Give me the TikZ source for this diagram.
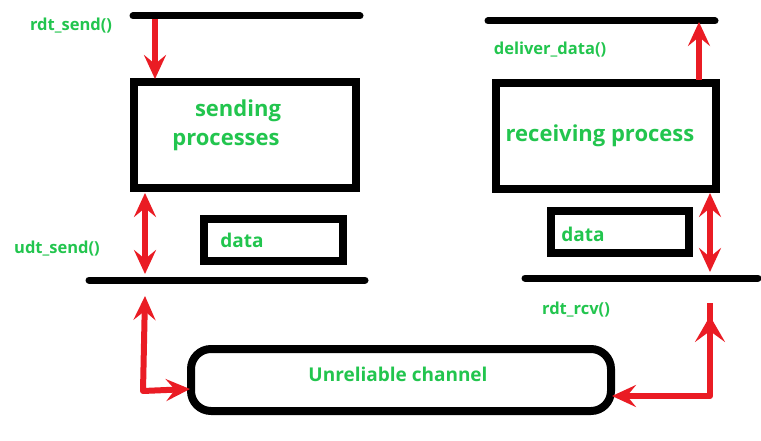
\documentclass[tikz,border=0pt]{standalone}
\usepackage{fontspec}
\setmainfont{Open Sans}
\usetikzlibrary{arrows.meta}
\definecolor{lblgreen}{RGB}{34,197,78}
\definecolor{arrred}{RGB}{234,28,36}
\tikzset{
  bar/.style={line width=7pt, line cap=round},
  box/.style={draw, line width=8pt, inner sep=0pt},
  lbl/.style={text=lblgreen, font=\bfseries, inner sep=0pt},
  small/.style={lbl, font=\bfseries\fontsize{16.5}{20}\selectfont},
  big/.style={lbl, font=\bfseries\fontsize{22}{26}\selectfont},
  mid/.style={lbl, font=\bfseries\fontsize{19}{23}\selectfont},
  flow/.style={arrred, line width=6pt, line join=round,
    arrows={-Stealth[length=24pt, width=22pt, inset=9pt]}},
  flowboth/.style={flow, arrows={Stealth[length=24pt, width=22pt, inset=9pt]-Stealth[length=24pt, width=22pt, inset=9pt]}},
}
\begin{document}
\begin{tikzpicture}[x=1pt, y=-1pt]
  \useasboundingbox[fill=white] (0,0) rectangle (761,441);

  % horizontal layer boundaries
  \coordinate (lt1) at (133,16);  \coordinate (lt2) at (360,16);
  \coordinate (rt1) at (488,21);  \coordinate (rt2) at (715,21);
  \coordinate (lb1) at (89,280);  \coordinate (lb2) at (365,280);
  \coordinate (rb1) at (525,278); \coordinate (rb2) at (758,278);
  \draw[bar] (lt1) -- (lt2);
  \draw[bar] (rt1) -- (rt2);
  \draw[bar] (lb1) -- (lb2);
  \draw[bar] (rb1) -- (rb2);

  % process boxes
  \node[box, minimum width=222pt, minimum height=106pt] (send) at (245,135) {};
  \node[box, minimum width=220pt, minimum height=106pt] (recv) at (606,136) {};
  \node[box, minimum width=139pt, minimum height=42pt] (sdata) at (273.5,240) {};
  \node[box, minimum width=138pt, minimum height=42pt] (rdata) at (620,232) {};
  \node[box, rounded corners=20pt, minimum width=420pt, minimum height=62pt] (chan) at (401,380) {};

  % labels
  \node[small] (lrdtsend) at (71,26) {rdt\_send()};
  \node[small] (ludtsend) at (57,249) {udt\_send()};
  \node[small] (ldeliver) at (550,50) {deliver\_data()};
  \node[small] (lrdtrcv) at (576,310) {rdt\_rcv()};
  \node[big] (lsending) at (238,111) {sending};
  \node[big] (lprocs) at (226,142) {processes};
  \node[big] (lrecv) at (600,136) {receiving process};
  \node[mid] (lsdata) at (242,240) {data};
  \node[mid] (lrdata) at (583,234) {data};
  \node[mid] (lchan) at (398,374) {Unreliable channel};

  % arrow anchors
  \coordinate (a1s) at (155,19);
  \coordinate (a1e) at (155,79);
  \coordinate (a2s) at (699,80);
  \coordinate (a2e) at (699,22);
  \coordinate (a3s) at (145,193);
  \coordinate (a3e) at (145,274);
  \coordinate (a4s) at (710,193);
  \coordinate (a4e) at (710,272);
  \coordinate (a5top) at (145,296);
  \coordinate (a5c) at (143,391);
  \coordinate (a5e) at (190,389);
  \coordinate (a6top) at (710,303);
  \coordinate (a6tip) at (710,316);
  \coordinate (a6base) at (710,345);
  \coordinate (a6c) at (710,396);
  \coordinate (a6e) at (612,396);

  % data flow arrows
  \draw[flow] (a1s) -- (a1e);
  \draw[flow] (a2s) -- (a2e);
  \draw[flowboth] (a3s) -- (a3e);
  \draw[flowboth] (a4s) -- (a4e);
  \draw[flowboth] (a5top) -- (a5c) -- (a5e);
  \draw[flow] (a6top) -- (a6c) -- (a6e);
  \draw[arrred, line width=6pt, arrows={-Stealth[length=26pt, width=30pt, inset=11pt]}] (a6base) -- (a6tip);
\end{tikzpicture}
\end{document}
